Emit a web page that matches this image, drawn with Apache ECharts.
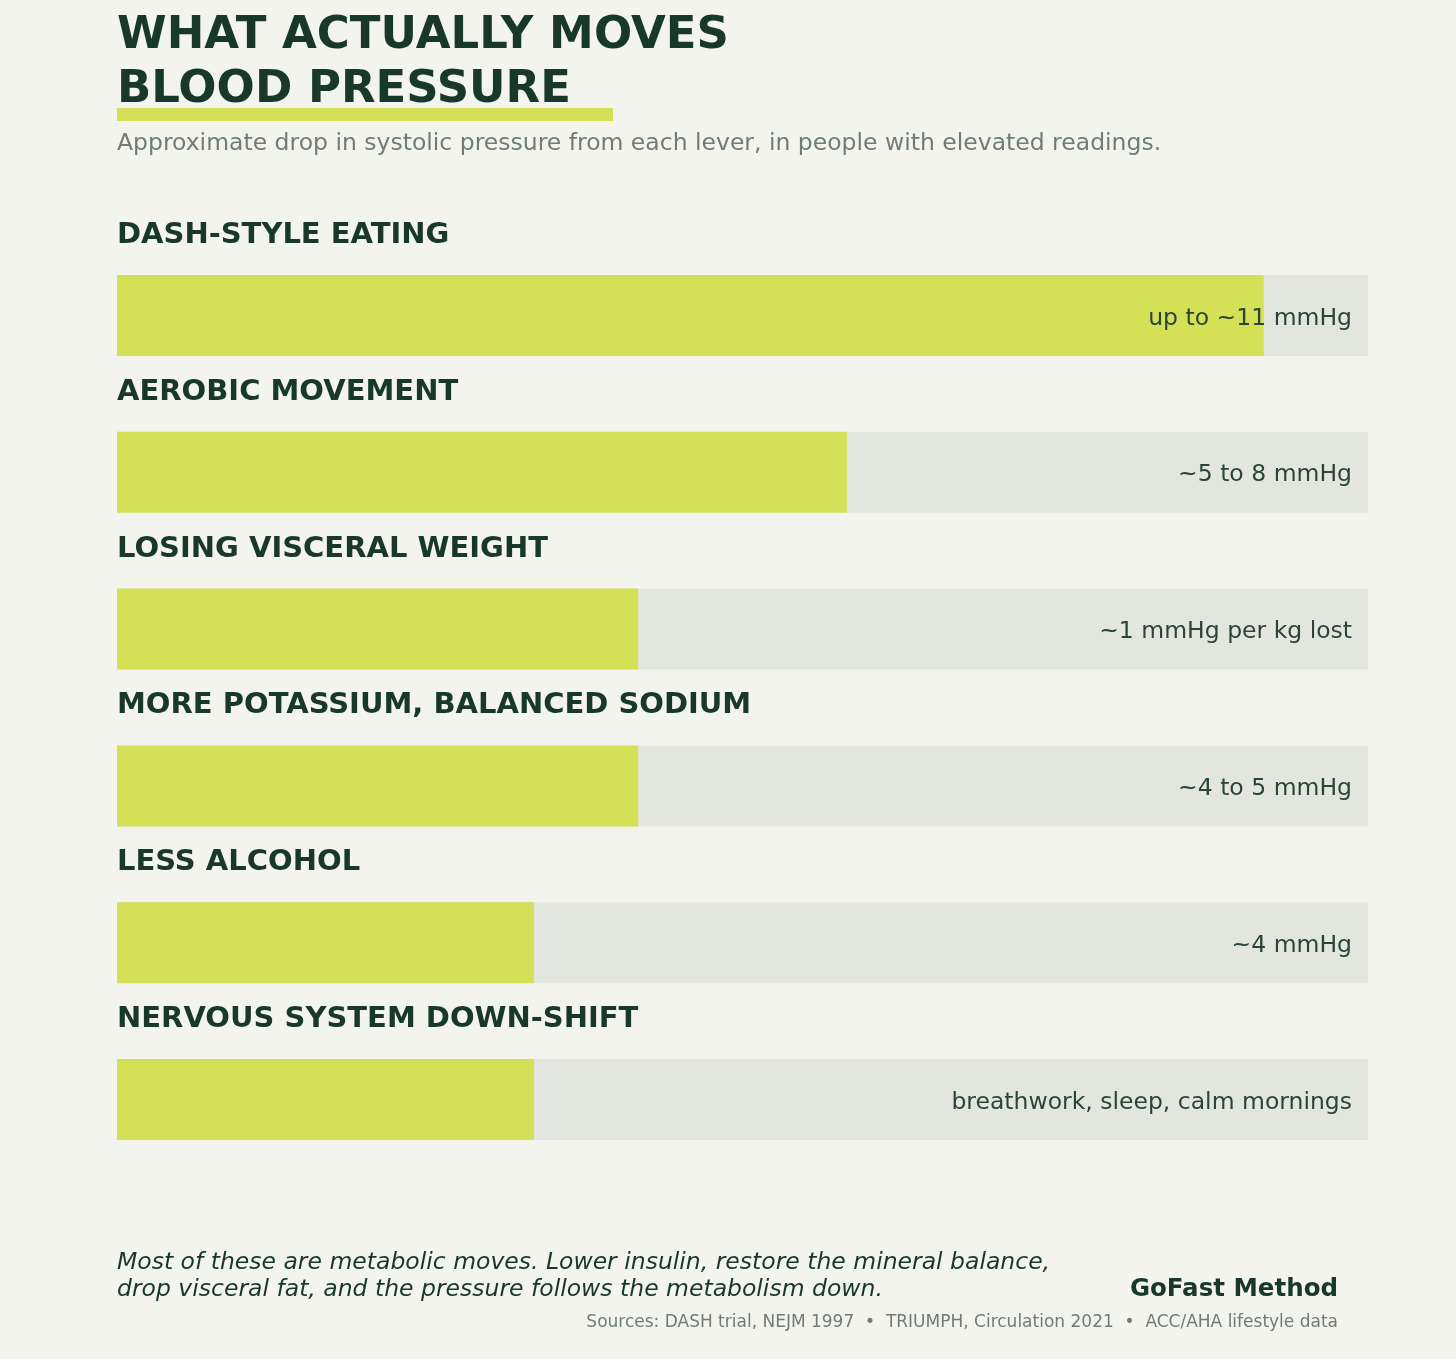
<!DOCTYPE html>
<html>
<head>
<meta charset="utf-8">
<script src="https://cdn.jsdelivr.net/npm/echarts@6/dist/echarts.min.js"></script>
<style>
  html, body { margin: 0; padding: 0; background: #f4f4ef; }
  #main { width: 1456px; height: 1359px; }
</style>
</head>
<body>
<div id="main"></div>
<script>
// levers, top to bottom
const categories = [
  'DASH-STYLE EATING',
  'AEROBIC MOVEMENT',
  'LOSING VISCERAL WEIGHT',
  'MORE POTASSIUM, BALANCED SODIUM',
  'LESS ALCOHOL',
  'NERVOUS SYSTEM DOWN-SHIFT'
];
// approx systolic drop, mmHg
const values = [11, 7, 5, 5, 4, 4];
const notes = [
  'up to ~11 mmHg',
  '~5 to 8 mmHg',
  '~1 mmHg per kg lost',
  '~4 to 5 mmHg',
  '~4 mmHg',
  'breathwork, sleep, calm mornings'
];
const scaleMax = 12;

const dark = '#17382a';
const font = '"DejaVu Sans", Verdana, sans-serif';

const chart = echarts.init(document.getElementById('main'));

const option = {
  backgroundColor: '#f4f4ef',
  animation: false,
  grid: { left: 117, right: 88, top: 237, bottom: 181 },
  xAxis: { type: 'value', min: 0, max: scaleMax, show: false },
  yAxis: {
    type: 'category',
    data: categories,
    inverse: true,
    show: false
  },
  series: [
    {
      // background track
      type: 'bar',
      data: categories.map(() => scaleMax),
      barWidth: 81,
      barGap: '-100%',
      itemStyle: { color: '#e3e6df' },
      silent: true,
      z: 1
    },
    {
      type: 'bar',
      data: values,
      barWidth: 81,
      barGap: '-100%',
      itemStyle: { color: '#d4e157' },
      z: 2,
      label: {
        show: true,
        position: [0, -25],
        align: 'left',
        verticalAlign: 'bottom',
        formatter: p => categories[p.dataIndex],
        fontFamily: font,
        fontWeight: 'bold',
        fontSize: 29,
        color: dark
      }
    },
    {
      // note text on the right of each track
      type: 'bar',
      data: categories.map(() => scaleMax),
      barWidth: 81,
      barGap: '-100%',
      itemStyle: { color: 'rgba(0,0,0,0)' },
      silent: true,
      z: 3,
      label: {
        show: true,
        position: 'insideRight',
        distance: 16,
        offset: [0, 3],
        formatter: p => notes[p.dataIndex],
        fontFamily: font,
        fontSize: 23.5,
        color: '#2b4535'
      }
    }
  ],
  graphic: [
    { type: 'text', left: 117, top: 14, style: { text: 'WHAT ACTUALLY MOVES', font: 'bold 45px ' + font, fill: dark } },
    { type: 'text', left: 117, top: 68, style: { text: 'BLOOD PRESSURE', font: 'bold 45px ' + font, fill: dark } },
    { type: 'rect', left: 117, top: 108, shape: { width: 496, height: 13 }, style: { fill: '#d4e157' } },
    { type: 'text', left: 117, top: 132, style: { text: 'Approximate drop in systolic pressure from each lever, in people with elevated readings.', font: '23.5px ' + font, fill: '#6f7d72' } },
    { type: 'text', left: 117, top: 1249, style: { text: 'Most of these are metabolic moves. Lower insulin, restore the mineral balance,\ndrop visceral fat, and the pressure follows the metabolism down.', font: 'italic 23.5px ' + font, fill: dark, lineHeight: 27 } },
    { type: 'text', right: 118, top: 1277, style: { text: 'GoFast Method', font: 'bold 24.5px ' + font, fill: dark } },
    { type: 'text', right: 118, top: 1314, style: { text: 'Sources: DASH trial, NEJM 1997  \u2022  TRIUMPH, Circulation 2021  \u2022  ACC/AHA lifestyle data', font: '17px ' + font, fill: '#6f7d72' } }
  ]
};

chart.setOption(option);
</script>
</body>
</html>
